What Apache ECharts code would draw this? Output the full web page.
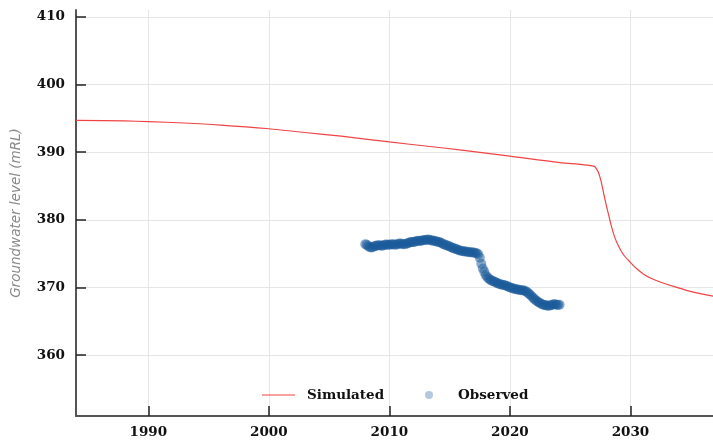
<!DOCTYPE html>
<html>
<head>
<meta charset="utf-8">
<script src="https://cdn.jsdelivr.net/npm/echarts@6/dist/echarts.min.js"></script>
<style>html,body{margin:0;padding:0;background:#fff;}#c{width:713px;height:441px;}</style>
</head>
<body>
<div id="c"></div>
<script>
// Simulated groundwater level (decimal year, mRL)
const simYears = [1984.0, 1988, 1990, 1993, 1996, 2000, 2003, 2006, 2010, 2013, 2016, 2020, 2024.16, 2026, 2027.0, 2027.15, 2027.33, 2027.47, 2027.61, 2027.8, 2028.03, 2028.25, 2028.44, 2028.7, 2028.99, 2029.4, 2029.97, 2030.5, 2031.07, 2031.7, 2032.46, 2033.84, 2035.22, 2036.85];
const simValues = [394.7, 394.6, 394.5, 394.3, 394.0, 393.45, 392.9, 392.35, 391.5, 390.9, 390.3, 389.4, 388.45, 388.15, 387.9, 387.6, 387.07, 386.3, 385.35, 383.7, 381.9, 380.3, 378.9, 377.4, 376.2, 374.9, 373.75, 372.8, 372.0, 371.35, 370.8, 370.0, 369.3, 368.7];

// Observed groundwater level (decimal year, mRL)
const obsYears = [
 2008.000,2008.125,2008.250,2008.375,2008.500,2008.625,2008.750,2008.875,
 2009.000,2009.125,2009.250,2009.375,2009.500,2009.625,2009.750,2009.875,
 2010.000,2010.125,2010.250,2010.375,2010.500,2010.625,2010.750,2010.875,
 2011.000,2011.125,2011.250,2011.375,2011.500,2011.625,2011.750,2011.875,
 2012.000,2012.125,2012.250,2012.375,2012.500,2012.625,2012.750,2012.875,
 2013.000,2013.125,2013.250,2013.375,2013.500,2013.625,2013.750,2013.875,
 2014.000,2014.125,2014.250,2014.375,2014.500,2014.625,2014.750,2014.875,
 2015.000,2015.125,2015.250,2015.375,2015.500,2015.625,2015.750,2015.875,
 2016.000,2016.125,2016.250,2016.375,2016.500,2016.625,2016.750,2016.875,
 2017.000,2017.125,2017.250,2017.375,2017.500,2017.625,2017.750,2017.875,
 2018.000,2018.125,2018.250,2018.375,2018.500,2018.625,2018.750,2018.875,
 2019.000,2019.125,2019.250,2019.375,2019.500,2019.625,2019.750,2019.875,
 2020.000,2020.125,2020.250,2020.375,2020.500,2020.625,2020.750,2020.875,
 2021.000,2021.125,2021.250,2021.375,2021.500,2021.625,2021.750,2021.875,
 2022.000,2022.125,2022.250,2022.375,2022.500,2022.625,2022.750,2022.875,
 2023.000,2023.125,2023.250,2023.375,2023.500,2023.625,2023.750,2023.875,
 2024.000,2024.125
];
const obsValues = [
 376.40,376.30,376.10,375.95,375.90,375.95,376.10,376.15,
 376.20,376.25,376.20,376.15,376.20,376.30,376.35,376.30,
 376.30,376.35,376.40,376.35,376.30,376.35,376.45,376.50,
 376.45,376.40,376.40,376.45,376.50,376.60,376.70,376.70,
 376.70,376.75,376.85,376.90,376.85,376.90,376.95,377.00,
 377.00,377.05,377.10,377.00,376.95,376.90,376.90,376.80,
 376.75,376.70,376.65,376.50,376.40,376.30,376.20,376.15,
 376.05,375.95,375.85,375.75,375.70,375.60,375.50,375.45,
 375.40,375.35,375.30,375.30,375.25,375.20,375.20,375.15,
 375.15,375.10,375.05,374.90,374.40,373.50,372.80,372.30,
 371.80,371.50,371.30,371.15,371.00,370.90,370.85,370.70,
 370.60,370.50,370.45,370.40,370.35,370.30,370.20,370.10,
 370.00,369.95,369.85,369.80,369.75,369.70,369.65,369.60,
 369.60,369.55,369.50,369.35,369.20,369.00,368.80,368.55,
 368.35,368.15,367.95,367.80,367.70,367.55,367.45,367.40,
 367.35,367.30,367.30,367.35,367.45,367.50,367.50,367.45,
 367.40,367.45
];

const xTicks = [1990, 2000, 2010, 2020, 2030];
const yTicks = [360, 370, 380, 390, 400, 410];

const simData = simYears.map((y, i) => [y, simValues[i]]);
const obsData = obsYears.map((y, i) => [y, obsValues[i]]);

const labelFont = { fontFamily: 'DejaVu Serif', fontWeight: 'bold', fontSize: 13.5, color: '#111' };
const simColor = '#f04444';
const obsColor = '#1a5a9a';

const chart = echarts.init(document.getElementById('c'), null, { renderer: 'canvas' });
chart.setOption({
  animation: false,
  backgroundColor: '#fff',
  grid: { left: 76, right: 0, top: 10, bottom: 25, containLabel: false },
  legend: [
    {
      left: 262, top: 388, padding: 0,
      itemWidth: 33, itemHeight: 8,
      textStyle: Object.assign({}, labelFont, { padding: [0, 0, 0, 7] }),
      data: [{ name: 'Simulated', icon: 'path://M0,0L33,0L33,1.2L0,1.2Z' }]
    },
    {
      left: 425, top: 388, padding: 0,
      itemWidth: 8, itemHeight: 8,
      textStyle: Object.assign({}, labelFont, { padding: [0, 0, 0, 20] }),
      data: [{ name: 'Observed', icon: 'circle', itemStyle: { color: obsColor, opacity: 0.33 } }]
    }
  ],
  xAxis: {
    type: 'value', min: 1984, max: 2036.85,
    axisLine: { show: true, lineStyle: { color: '#555', width: 2 } },
    axisTick: { show: true, inside: true, length: 10, customValues: xTicks, lineStyle: { color: '#222', width: 1.5 } },
    axisLabel: Object.assign({ customValues: xTicks, margin: 9, formatter: v => String(v) }, labelFont),
    splitLine: { show: true, lineStyle: { color: '#e6e6e6', width: 1 } }
  },
  yAxis: {
    type: 'value', min: 351, max: 411,
    name: 'Groundwater level (mRL)', nameLocation: 'middle', nameGap: 53,
    nameTextStyle: { fontFamily: 'DejaVu Sans', fontStyle: 'italic', fontSize: 13.5, color: '#8a8a8a' },
    axisLine: { show: true, lineStyle: { color: '#555', width: 2 } },
    axisTick: { show: true, inside: true, length: 10, customValues: yTicks, lineStyle: { color: '#222', width: 1.5 } },
    axisLabel: Object.assign({ customValues: yTicks, margin: 11, formatter: v => String(v) }, labelFont),
    splitLine: { show: true, lineStyle: { color: '#e6e6e6', width: 1 } }
  },
  series: [
    {
      name: 'Simulated', type: 'line', data: simData,
      symbol: 'none', smooth: 0.3,
      lineStyle: { color: simColor, width: 1.2 },
      itemStyle: { color: simColor }
    },
    {
      name: 'Observed', type: 'scatter', data: obsData,
      symbol: 'circle', symbolSize: 10,
      itemStyle: { color: obsColor, opacity: 0.5 }
    }
  ]
});
</script>
</body>
</html>
